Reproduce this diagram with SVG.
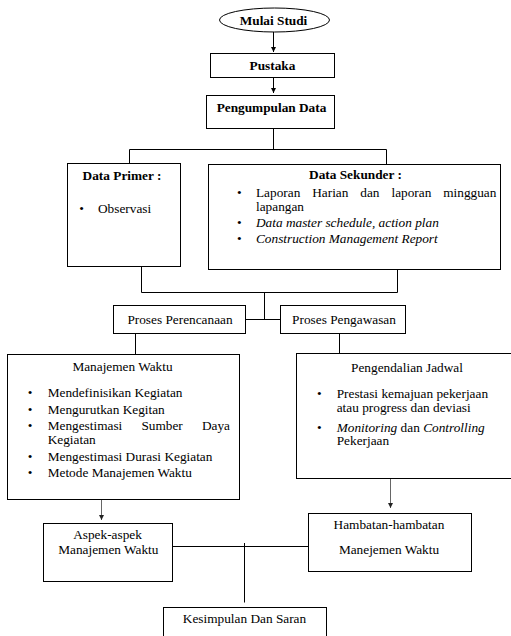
<svg xmlns="http://www.w3.org/2000/svg" width="511" height="636" viewBox="0 0 511 636">
<style>
.bg{fill:#fff}
.box{fill:#fff;stroke:#000;stroke-width:1}
.ln{fill:none;stroke:#000;stroke-width:1}
.gl{fill:none;stroke:#666;stroke-width:1}
text{font-family:"Liberation Serif","Times New Roman","DejaVu Serif",serif;font-size:13.3px;fill:#000}
.b{font-weight:bold}
.i{font-style:italic}
.c{text-anchor:middle}
</style>
<defs>
<marker id="ah" markerWidth="6" markerHeight="6" refX="5" refY="3" orient="auto" markerUnits="userSpaceOnUse">
<path d="M0,0.5 L5,3 L0,5.5 z" fill="#000"/>
</marker>
<marker id="ahg" markerWidth="6" markerHeight="6" refX="5" refY="3" orient="auto" markerUnits="userSpaceOnUse">
<path d="M0,0.5 L5,3 L0,5.5 z" fill="#222"/>
</marker>
</defs>
<rect class="bg" x="0" y="0" width="511" height="636"/>

<g id="connectors">
<line class="ln" x1="273.5" y1="32" x2="273.5" y2="52" marker-end="url(#ah)"/>
<line class="ln" x1="273.5" y1="77.5" x2="273.5" y2="93" marker-end="url(#ah)"/>
<polyline class="ln" points="273.5,128.5 273.5,149.5"/>
<polyline class="ln" points="129.5,163.5 129.5,149.5 386.5,149.5 386.5,164.5"/>
<polyline class="ln" points="141.5,266.5 141.5,292.5 397.5,292.5 397.5,269.5"/>
<polyline class="ln" points="264.5,292.5 264.5,319.5"/>
<polyline class="ln" points="245.5,319.5 280.5,319.5"/>
<polyline class="ln" points="135.5,333.5 135.5,354.5"/>
<polyline class="ln" points="339.5,333.5 339.5,353.5"/>
<line class="gl" x1="101.5" y1="499.5" x2="101.5" y2="520" marker-end="url(#ahg)"/>
<line class="gl" x1="390.5" y1="478.5" x2="390.5" y2="508" marker-end="url(#ahg)"/>
<polyline class="ln" points="172.5,546.5 308.5,546.5"/>
<polyline class="ln" points="244.5,543 244.5,602.5"/>
</g>

<g id="mulai">
<ellipse class="box" cx="274.5" cy="20" rx="55" ry="12" stroke-width="1.3"/>
<text class="b c" x="273.5" y="24.5">Mulai Studi</text>
</g>

<g id="pustaka">
<rect class="box" x="210.5" y="53.5" width="124" height="24"/>
<text class="b c" x="272.5" y="70">Pustaka</text>
</g>

<g id="pengumpulan">
<rect class="box" x="206.5" y="95.5" width="128" height="33"/>
<text class="b c" x="271.5" y="112">Pengumpulan Data</text>
</g>

<g id="primer">
<rect class="box" x="67.5" y="163.5" width="113" height="103"/>
<text class="b c" x="122" y="180">Data Primer :</text>
<text class="c" x="81.7" y="213">•</text>
<text x="98" y="213">Observasi</text>
</g>

<g id="sekunder">
<rect class="box" x="208.5" y="164.5" width="292" height="105"/>
<text class="b c" x="355.5" y="179">Data Sekunder :</text>
<text class="c" x="239.3" y="197">•</text>
<text x="256" y="197" word-spacing="8.6">Laporan Harian dan laporan mingguan</text>
<text x="256" y="211">lapangan</text>
<text class="c" x="239.3" y="227">•</text>
<text class="i" x="256" y="227">Data master schedule, action plan</text>
<text class="c" x="239.3" y="243">•</text>
<text class="i" x="256" y="243">Construction Management Report</text>
</g>

<g id="perencanaan">
<rect class="box" x="113.5" y="305.5" width="132" height="28"/>
<text class="c" x="180" y="324">Proses Perencanaan</text>
</g>

<g id="pengawasan">
<rect class="box" x="280.5" y="305.5" width="125" height="28"/>
<text class="c" x="344" y="324">Proses Pengawasan</text>
</g>

<g id="manajemen">
<rect class="box" x="7.5" y="354.5" width="232" height="145"/>
<text class="c" x="122.5" y="371">Manajemen Waktu</text>
<text class="c" x="30" y="397">•</text>
<text x="47.7" y="397">Mendefinisikan Kegiatan</text>
<text class="c" x="30" y="413.5">•</text>
<text x="47.7" y="413.5">Mengurutkan Kegitan</text>
<text class="c" x="30" y="429.5">•</text>
<text x="47.7" y="429.5" word-spacing="15.8">Mengestimasi Sumber Daya</text>
<text x="47.7" y="444">Kegiatan</text>
<text class="c" x="30" y="460.5">•</text>
<text x="47.7" y="460.5">Mengestimasi Durasi Kegiatan</text>
<text class="c" x="30" y="477">•</text>
<text x="47.7" y="477">Metode Manajemen Waktu</text>
</g>

<g id="pengendalian">
<rect class="box" x="296.5" y="353.5" width="220" height="125"/>
<text class="c" x="407" y="372">Pengendalian Jadwal</text>
<text class="c" x="319.3" y="397.5">•</text>
<text x="336.7" y="397.5">Prestasi kemajuan pekerjaan</text>
<text x="336.7" y="411.5">atau progress dan deviasi</text>
<text class="c" x="319.3" y="431.5">•</text>
<text x="336.7" y="431.5"><tspan class="i">Monitoring</tspan> dan <tspan class="i">Controlling</tspan></text>
<text x="336.7" y="445">Pekerjaan</text>
</g>

<g id="aspek">
<rect class="box" x="43.5" y="523.5" width="129" height="58"/>
<text class="c" x="107.5" y="538.5">Aspek-aspek</text>
<text class="c" x="108.3" y="554">Manajemen Waktu</text>
</g>

<g id="hambatan">
<rect class="box" x="308.5" y="513.5" width="163" height="58"/>
<text class="c" x="389" y="529">Hambatan-hambatan</text>
<text class="c" x="389" y="554">Manejemen Waktu</text>
</g>

<g id="kesimpulan">
<rect class="box" x="163.5" y="607.5" width="163" height="40"/>
<text class="c" x="244.5" y="622.5">Kesimpulan Dan Saran</text>
</g>
</svg>
